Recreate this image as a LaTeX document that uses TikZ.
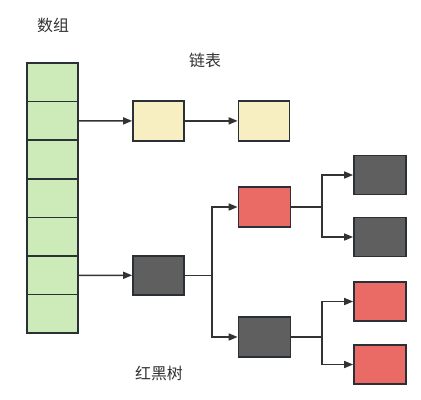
\documentclass[tikz,border=0pt]{standalone}
\usepackage{fontspec}
\newfontfamily\cjk{Noto Sans CJK SC}
\usetikzlibrary{arrows.meta}
\definecolor{edgec}{HTML}{2B3036}
\definecolor{linec}{HTML}{333333}
\definecolor{greenf}{HTML}{CDEBB8}
\definecolor{yellowf}{HTML}{F7EFC2}
\definecolor{redf}{HTML}{EA6B66}
\definecolor{darkf}{HTML}{5F5F5F}
\definecolor{textc}{HTML}{333333}
\tikzset{
  box/.style={draw=edgec, line width=1.7bp, inner sep=0pt, minimum width=51bp, minimum height=39bp},
  cell/.style={box, fill=greenf, minimum height=38.6bp},
  listbox/.style={box, fill=yellowf, minimum height=40bp},
  redbox/.style={box, fill=redf},
  blackbox/.style={box, fill=darkf},
  conn/.style={draw=linec, line width=1.6bp, -{Triangle[length=9bp,width=7bp]}},
  lbl/.style={text=textc, font=\cjk\fontsize{16}{19}\selectfont, inner sep=0pt}
}
\begin{document}
\begin{tikzpicture}[x=1bp,y=-1bp]
\useasboundingbox (0,0) rectangle (421,400);
% array
\foreach \i in {1,...,7} {
  \node[cell] (a\i) at (52.5,{63+38.6*(\i-0.5)}) {};
}
% linked list
\node[listbox] (l1) at (158.5,120.9) {};
\node[listbox] (l2) at (264,120.9) {};
% tree
\node[blackbox] (r) at (158.5,275.3) {};
\node[redbox, minimum width=52bp, minimum height=40bp] (c1) at (264.5,207) {};
\node[blackbox, minimum width=52bp, minimum height=40bp] (c2) at (264.5,337) {};
\node[blackbox, minimum width=52bp] (g1) at (380,175) {};
\node[blackbox, minimum width=52bp] (g2) at (380,237) {};
\node[redbox, minimum width=52bp] (g3) at (380,301.5) {};
\node[redbox, minimum width=52bp] (g4) at (380,364.5) {};
% labels
\node[lbl] (t1) at (53,25) {数组};
\node[lbl] (t2) at (205,60) {链表};
\node[lbl] (t3) at (159,373) {红黑树};
% connectors
\coordinate (b1) at (212,275.3);
\coordinate (b2) at (322,207);
\coordinate (b3) at (322,337);
\draw[conn] (a2.east) -- (l1.west);
\draw[conn] (l1.east) -- (l2.west);
\draw[conn] (a6.east) -- (r.west);
\draw[conn] (r.east) -- (b1) |- (c1.west);
\draw[conn] (r.east) -- (b1) |- (c2.west);
\draw[conn] (c1.east) -- (b2) |- (g1.west);
\draw[conn] (c1.east) -- (b2) |- (g2.west);
\draw[conn] (c2.east) -- (b3) |- (g3.west);
\draw[conn] (c2.east) -- (b3) |- (g4.west);
\end{tikzpicture}
\end{document}
